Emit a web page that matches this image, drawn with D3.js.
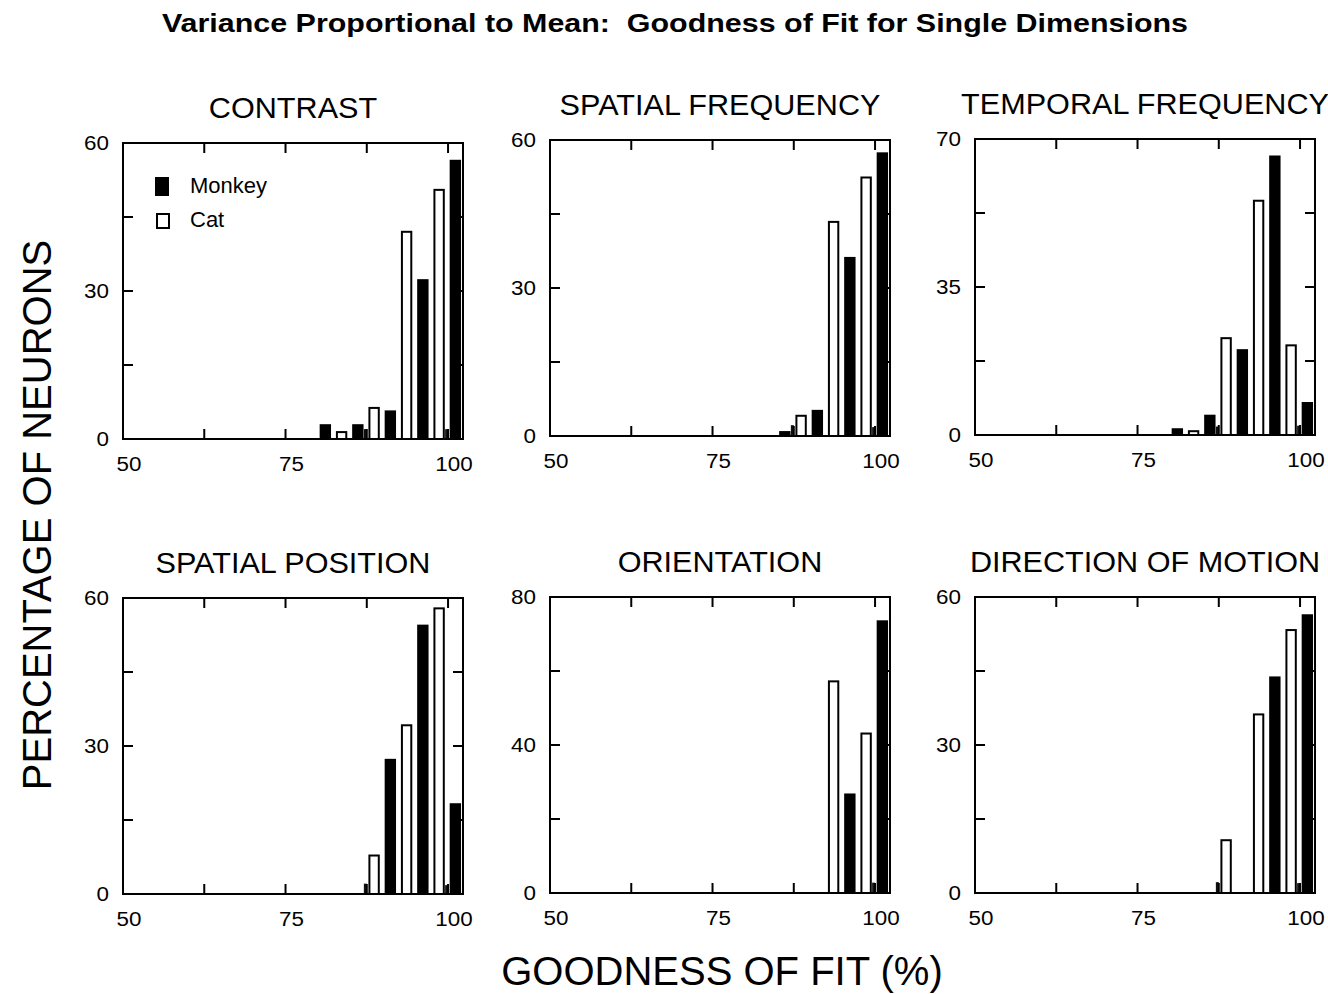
<!DOCTYPE html>
<html>
<head>
<meta charset="utf-8">
<script src="https://cdn.jsdelivr.net/npm/d3@7"></script>
<style>
  html, body { margin: 0; padding: 0; background: #fff; }
  svg text { font-family: "Liberation Sans", Arial, Helvetica, sans-serif; fill: #000; white-space: pre; }
</style>
</head>
<body>
<svg id="chart" width="1328" height="994"></svg>
<script>
// Histogram bins (goodness of fit, %): monkey and cat bars are interleaved
const monkeyBins = [80, 85, 90, 95, 100];
const catBins = [82.5, 87.5, 92.5, 97.5];
// thin slivers that sit just left of these bins
const sliverBins = [87.5, 100];

const panelTitles = ["CONTRAST", "SPATIAL FREQUENCY", "TEMPORAL FREQUENCY",
                     "SPATIAL POSITION", "ORIENTATION", "DIRECTION OF MOTION"];
const yMaxima = [60, 60, 70, 60, 80, 60];
const yTickLabels = [[0, 30, 60], [0, 30, 60], [0, 35, 70], [0, 30, 60], [0, 40, 80], [0, 30, 60]];
const xTickLabels = [50, 75, 100];
const xMinorTicks = [62.5, 75, 87.5, 100];

// Percentage of neurons per bin
const contrastMonkey = [3.0, 3.0, 5.8, 32.4, 56.6];
const contrastCat = [1.4, 6.3, 42.0, 50.5];
const contrastSliver = [2.0, 2.0];

const spatialFreqMonkey = [0, 1.0, 5.3, 36.3, 57.5];
const spatialFreqCat = [0, 4.1, 43.4, 52.4];
const spatialFreqSliver = [2.2, 1.8];

const temporalFreqMonkey = [1.6, 4.8, 20.3, 66.1, 7.8];
const temporalFreqCat = [0.9, 22.9, 55.4, 21.2];
const temporalFreqSliver = [2.0, 2.2];

const positionMonkey = [0, 0, 27.4, 54.6, 18.4];
const positionCat = [0, 7.8, 34.2, 57.9];
const positionSliver = [2.1, 1.8];

const orientationMonkey = [0, 0, 0, 26.9, 73.7];
const orientationCat = [0, 0, 57.2, 43.1];
const orientationSliver = [0, 2.8];

const motionMonkey = [0, 0, 0, 43.9, 56.5];
const motionCat = [0, 10.7, 36.2, 53.3];
const motionSliver = [2.2, 2.0];

const monkeySeries = [contrastMonkey, spatialFreqMonkey, temporalFreqMonkey, positionMonkey, orientationMonkey, motionMonkey];
const catSeries = [contrastCat, spatialFreqCat, temporalFreqCat, positionCat, orientationCat, motionCat];
const sliverSeries = [contrastSliver, spatialFreqSliver, temporalFreqSliver, positionSliver, orientationSliver, motionSliver];

// Layout
const panelLefts = [123, 550, 975, 123, 550, 975];
const panelTops = [143, 140, 139, 598, 597, 597];
const panelW = 340, panelH = 296;
const tickLen = 10;

// widen glyphs horizontally by factor k
function widen(sel, k) {
  sel.each(function () {
    const w = this.getComputedTextLength();
    d3.select(this).attr("textLength", w * k).attr("lengthAdjust", "spacingAndGlyphs");
  });
}

const svg = d3.select("#chart");

svg.append("text")
  .attr("x", 675).attr("y", 32)
  .attr("text-anchor", "middle")
  .attr("font-size", 26).attr("font-weight", "bold")
  .attr("textLength", 1026).attr("lengthAdjust", "spacingAndGlyphs")
  .text("Variance Proportional to Mean:  Goodness of Fit for Single Dimensions");

svg.append("text")
  .attr("transform", "translate(51,515) rotate(-90)")
  .attr("text-anchor", "middle")
  .attr("font-size", 40)
  .text("PERCENTAGE OF NEURONS");

svg.append("text")
  .attr("x", 722).attr("y", 985)
  .attr("text-anchor", "middle")
  .attr("font-size", 40)
  .text("GOODNESS OF FIT (%)");

panelTitles.forEach((title, i) => {
  const g = svg.append("g").attr("transform", `translate(${panelLefts[i]},${panelTops[i]})`);
  const x = d3.scaleLinear().domain([50, 102.3]).range([0, panelW]);
  const y = d3.scaleLinear().domain([0, yMaxima[i]]).range([panelH, 0]);
  const yTicks = d3.range(0, 5).map(k => yMaxima[i] * k / 4);

  g.append("text")
    .attr("x", panelW / 2).attr("y", -25)
    .attr("text-anchor", "middle")
    .attr("font-size", 30)
    .text(title)
    .call(widen, 1.02);

  // bars
  const barW = x(51.75) - x(50);
  g.selectAll("rect.monkey").data(monkeySeries[i].map((v, k) => ({ bin: monkeyBins[k], v })).filter(d => d.v > 0))
    .join("rect").attr("class", "monkey")
    .attr("x", d => x(d.bin + 0.25)).attr("width", barW)
    .attr("y", d => y(d.v)).attr("height", d => y(0) - y(d.v))
    .attr("fill", "#000");

  g.selectAll("rect.cat").data(catSeries[i].map((v, k) => ({ bin: catBins[k], v })).filter(d => d.v > 0))
    .join("rect").attr("class", "cat")
    .attr("x", d => x(d.bin + 0.25) + 1).attr("width", barW - 2)
    .attr("y", d => y(d.v)).attr("height", d => y(0) - y(d.v))
    .attr("fill", "#fff").attr("stroke", "#000").attr("stroke-width", 2);

  g.selectAll("rect.sliver").data(sliverSeries[i].map((v, k) => ({ bin: sliverBins[k], v })).filter(d => d.v > 0))
    .join("rect").attr("class", "sliver")
    .attr("x", d => x(d.bin - 0.45)).attr("width", x(50.45) - x(50))
    .attr("y", d => y(d.v)).attr("height", d => y(0) - y(d.v))
    .attr("fill", "#111");

  // frame
  g.append("rect").attr("width", panelW).attr("height", panelH)
    .attr("fill", "none").attr("stroke", "#000").attr("stroke-width", 2);

  // inward ticks on all four sides
  const tickG = g.append("g").attr("stroke", "#000").attr("stroke-width", 2);
  yTicks.slice(1, 4).forEach(t => {
    tickG.append("line").attr("x1", 0).attr("x2", tickLen).attr("y1", y(t)).attr("y2", y(t));
    tickG.append("line").attr("x1", panelW).attr("x2", panelW - tickLen).attr("y1", y(t)).attr("y2", y(t));
  });
  xMinorTicks.forEach(t => {
    tickG.append("line").attr("x1", x(t)).attr("x2", x(t)).attr("y1", 0).attr("y2", tickLen);
    tickG.append("line").attr("x1", x(t)).attr("x2", x(t)).attr("y1", panelH).attr("y2", panelH - tickLen);
  });

  // tick labels
  g.selectAll("text.ylab").data(yTickLabels[i]).join("text").attr("class", "ylab")
    .attr("x", -14).attr("y", d => y(d)).attr("dy", "0.35em")
    .attr("text-anchor", "end").attr("font-size", 20)
    .text(d => d)
    .call(widen, 1.12);
  g.selectAll("text.xlab").data(xTickLabels).join("text").attr("class", "xlab")
    .attr("x", d => x(d) + 6).attr("y", panelH + 32)
    .attr("text-anchor", "middle").attr("font-size", 20)
    .text(d => d)
    .call(widen, 1.12);

  if (i === 0) {
    const lg = g.append("g").attr("transform", "translate(32,34)");
    lg.append("rect").attr("x", 0).attr("y", 0).attr("width", 14).attr("height", 19).attr("fill", "#000");
    lg.append("text").attr("x", 35).attr("y", 16).attr("font-size", 22).text("Monkey");
    lg.append("rect").attr("x", 2).attr("y", 37).attr("width", 12).attr("height", 14)
      .attr("fill", "#fff").attr("stroke", "#000").attr("stroke-width", 2);
    lg.append("text").attr("x", 35).attr("y", 50).attr("font-size", 22).text("Cat");
  }
});
</script>
</body>
</html>
